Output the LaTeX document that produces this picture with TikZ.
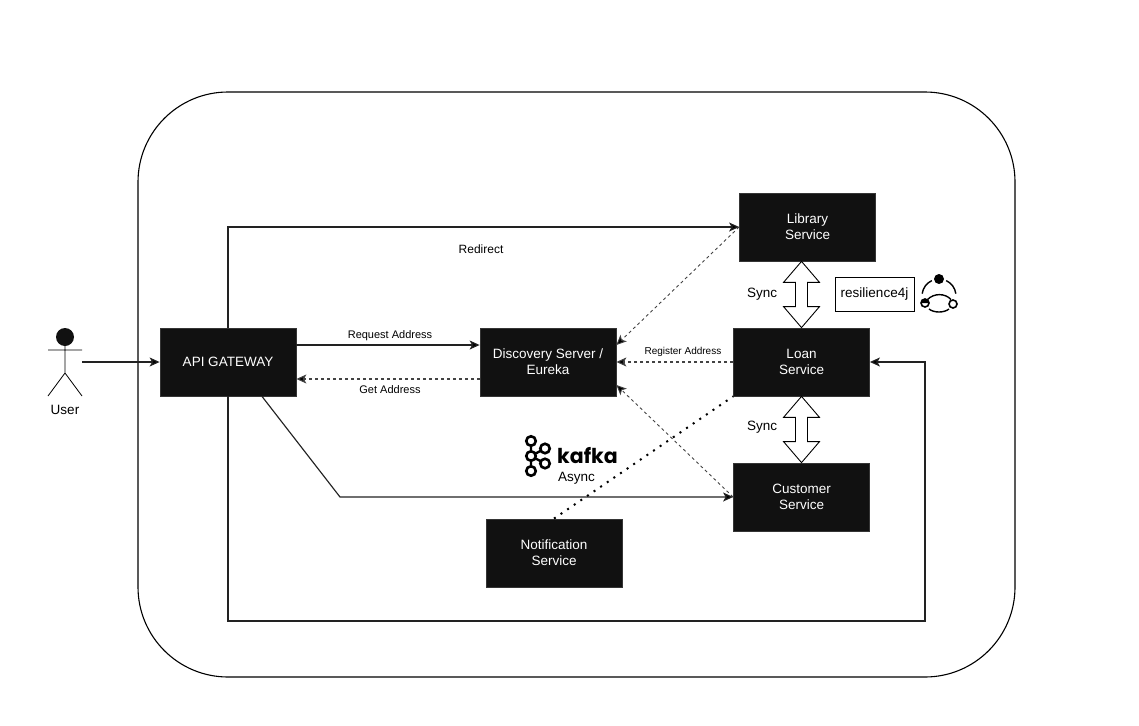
\documentclass[tikz,border=0pt]{standalone}
\usepackage{fontspec}
\setmainfont{Liberation Sans}
\newfontfamily\kafkafont{Poppins}
\usetikzlibrary{arrows.meta,calc}

\tikzset{
	svcbox/.style={fill=boxblack,draw=boxblack!85!white,line width=0.8pt,minimum width=136pt,minimum height=68pt,inner sep=0pt,align=center,text=white,font=\fontsize{13.5}{16}\selectfont},
	plain/.style={font=\fontsize{13.5}{16}\selectfont,inner sep=0pt},
	small/.style={font=\fontsize{11}{13}\selectfont,inner sep=0pt},
	flow/.style={draw=linegray,line width=1.15pt,-{Stealth[length=10pt,width=9pt,inset=2.5pt,fill=black]}},
	lookup/.style={flow,draw=linegray!85!white,line width=1.1pt,dash pattern=on 3pt off 3pt},
	syncarrow/.style={draw=black,line width=0.9pt,to path={-- ($(\tikztostart)+(18,21)$) -- ($(\tikztostart)+(6,21)$) -- ($(\tikztotarget)+(6,-21)$) -- ($(\tikztotarget)+(18,-21)$) -- (\tikztotarget) -- ($(\tikztotarget)+(-18,-21)$) -- ($(\tikztotarget)+(-6,-21)$) -- ($(\tikztostart)+(-6,21)$) -- ($(\tikztostart)+(-18,21)$) -- cycle}},
	kafkadot/.style={circle,draw=black,fill=white,line width=2.6pt,minimum size=9.5pt,inner sep=0pt},
	resdot/.style={circle,draw=black,fill=white,line width=1.6pt,minimum size=8pt,inner sep=0pt},
}
\definecolor{boxblack}{HTML}{111111}
\definecolor{linegray}{HTML}{222222}

\begin{document}
\begin{tikzpicture}[x=1pt,y=-1pt]
	\useasboundingbox (0,0) rectangle (1139,725);
	% outer frame
	\node (frame) [draw=black,line width=1.1pt,rounded corners=90pt,minimum width=877pt,minimum height=585pt,inner sep=0pt] at (576.5,384.5) {};
	% services
	\node (api) [svcbox] at (228,362) {API GATEWAY};
	\node (discovery) [svcbox] at (548,362) {Discovery Server /\\Eureka};
	\node (library) [svcbox] at (807.5,227) {Library\\Service};
	\node (loan) [svcbox] at (801.5,362) {Loan\\Service};
	\node (customer) [svcbox] at (801.5,497) {Customer\\Service};
	\node (notification) [svcbox] at (554,553) {Notification\\Service};
	% user
	\node (user) [minimum width=34pt,minimum height=68pt,inner sep=0pt] at (65,362) {};
	\fill[boxblack] (65,337) circle (9);
	\draw[line width=0.8pt] (65,346) -- (65,373) (48,350) -- (82,350) (48,396) -- (65,373) -- (82,396);
	\node (userlabel) [plain] at (65,410) {User};
	\draw[flow] (user) -- (api);
	% gateway
	\draw[flow] (api.north) |- (library.west);
	\draw[flow] ([yshift=17pt]api.east) -- node[small,above=4pt,xshift=2pt] {Request Address} ([yshift=17pt]discovery.west);
	\draw[lookup] ([yshift=-17pt]discovery.west) -- node[small,below=6pt,xshift=2pt] {Get Address} ([yshift=-17pt]api.east);
	\coordinate (bendcustomer) at (340,497);
	\draw[flow] ([xshift=34pt]api.south) -- (bendcustomer) -- (customer.west);
	\coordinate (bendlow) at (925,621);
	\draw[flow] (api.south) |- (bendlow) |- (loan.east);
	\node (redirect) [plain,font=\fontsize{12}{14}\selectfont] at (481,249) {Redirect};
	% registration
	\draw[lookup] (loan.west) -- node[small,above=5pt,pos=.43,font=\fontsize{10}{12}\selectfont] {Register Address} (discovery.east);
	\draw[lookup,line width=0.9pt] (library.west) -- ([yshift=17pt]discovery.east);
	\draw[lookup,line width=0.9pt] (customer.west) -- ([yshift=-23pt]discovery.east);
	\draw[line width=2pt,dash pattern=on 2pt off 6pt] (notification.north) -- (loan.south west);
	% sync
	\draw[syncarrow] (loan.north |- library.south) to (loan.north);
	\draw[syncarrow] (loan.south) to (customer.north);
	\node (syncupper) [plain] at (762,294) {Sync};
	\node (synclower) [plain] at (762,427) {Sync};
	% resilience4j
	\node (resilience) [draw=black,line width=0.8pt,minimum width=79pt,minimum height=34pt,inner sep=0pt,plain] at (874.5,294) {resilience4j};
	\draw[line width=1.4pt] (939,296) ++(-115:17) arc (-115:-172:17);
	\draw[line width=1.4pt] (939,296) ++(-65:17) arc (-65:-8:17);
	\draw[line width=1.4pt] (929,309) .. controls (934,313) and (944,313) .. (949,309);
	\draw[line width=1.4pt] (927.5,299.5) .. controls (934,293) and (945,293) .. (951,299.5);
	\node (restop) [circle,fill=black,minimum size=10pt,inner sep=0pt] at (939,279) {};
	\node (resleft) [resdot] at (925,303) {};
	\fill (925,303) ++(0:4) arc (0:-180:4) -- cycle;
	\node (resright) [resdot] at (953,304) {};
	% kafka
	\draw[line width=2.4pt] (531,456) -- (531,441) (531,456) -- (531,471) (531,456) -- (545,448.5) (531,456) -- (545,463.5);
	\node (kafkamid) [kafkadot] at (531,456) {};
	\node (kafkatop) [kafkadot] at (531,441) {};
	\node (kafkabot) [kafkadot] at (531,471) {};
	\node (kafkaup) [kafkadot] at (545,448.5) {};
	\node (kafkadown) [kafkadot] at (545,463.5) {};
	\node (kafkaword) [inner sep=0pt,font=\kafkafont\bfseries\fontsize{20.5}{20}\selectfont] at (587.5,456) {kafka};
	\node (async) [plain] at (576.5,478) {Async};
\end{tikzpicture}
\end{document}
